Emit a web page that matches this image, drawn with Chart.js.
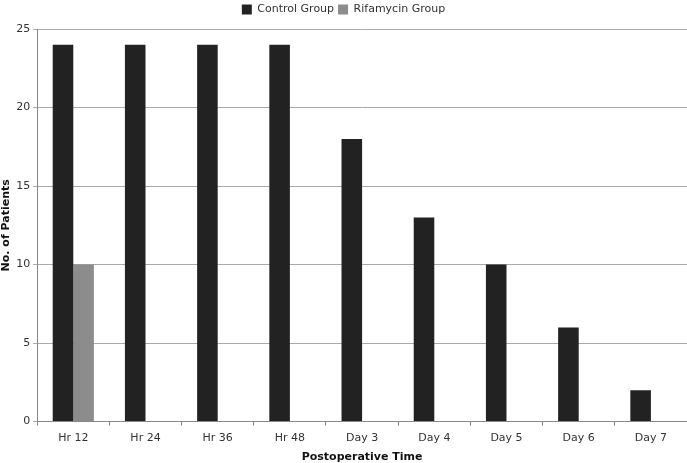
<!DOCTYPE html>
<html>
<head>
<meta charset="utf-8">
<script src="https://cdn.jsdelivr.net/npm/chart.js@4"></script>
<style>
  html, body { margin: 0; padding: 0; background: #fff; }
  #wrap { position: relative; width: 687px; height: 463px; }
</style>
</head>
<body>
<div id="wrap"><canvas id="chart"></canvas></div>
<script>
// --- datos ---
const categories = ['Hr 12', 'Hr 24', 'Hr 36', 'Hr 48', 'Day 3', 'Day 4', 'Day 5', 'Day 6', 'Day 7'];
const controlGroup = [24, 24, 24, 24, 18, 13, 10, 6, 2];
const rifamycinGroup = [10, 0, 0, 0, 0, 0, 0, 0, 0];
const yTicks = [0, 5, 10, 15, 20, 25];

Chart.defaults.font.family = 'Verdana, "DejaVu Sans", sans-serif';
Chart.defaults.font.size = 11;
Chart.defaults.color = '#333';

// espacio extra debajo de la leyenda
const legendGap = {
    id: 'legendGap',
    beforeInit(chart) {
        const origFit = chart.legend.fit;
        chart.legend.fit = function () {
            origFit.bind(chart.legend)();
            this.height += 4;
        };
    }
};

const ctx = document.getElementById('chart').getContext('2d');
new Chart(ctx, {
    type: 'bar',
    data: {
        labels: categories,
        datasets: [
            { label: 'Control Group', data: controlGroup, backgroundColor: '#222222', borderWidth: 0 },
            { label: 'Rifamycin Group', data: rifamycinGroup, backgroundColor: '#8c8c8c', borderWidth: 0 }
        ]
    },
    plugins: [legendGap],
    options: {
        responsive: true,
        maintainAspectRatio: false,
        animation: false,
        layout: { padding: { left: 0, right: 0, top: 0, bottom: -1 } },
        datasets: { bar: { categoryPercentage: 0.57, barPercentage: 1 } },
        plugins: {
            legend: {
                position: 'top',
                labels: { boxWidth: 10, boxHeight: 10, padding: 4, color: '#333', font: { size: 11 } }
            },
            tooltip: { enabled: false }
        },
        scales: {
            x: {
                grid: { display: true, drawOnChartArea: false, color: '#888', tickLength: 4 },
                border: { color: '#888' },
                ticks: { color: '#333', padding: 6 },
                title: { display: true, text: 'Postoperative Time', color: '#111', font: { weight: 'bold', size: 11 }, padding: { top: 0, bottom: 0 } }
            },
            y: {
                min: 0,
                max: 25,
                afterBuildTicks: (axis) => { axis.ticks = yTicks.map(v => ({ value: v })); },
                grid: { color: '#aaaaaa', tickLength: 4 },
                border: { color: '#888' },
                ticks: { color: '#333', padding: 3 },
                title: { display: true, text: 'No. of Patients', color: '#111', font: { weight: 'bold', size: 11 }, padding: { top: 0, bottom: 0 } }
            }
        }
    }
});
</script>
</body>
</html>
